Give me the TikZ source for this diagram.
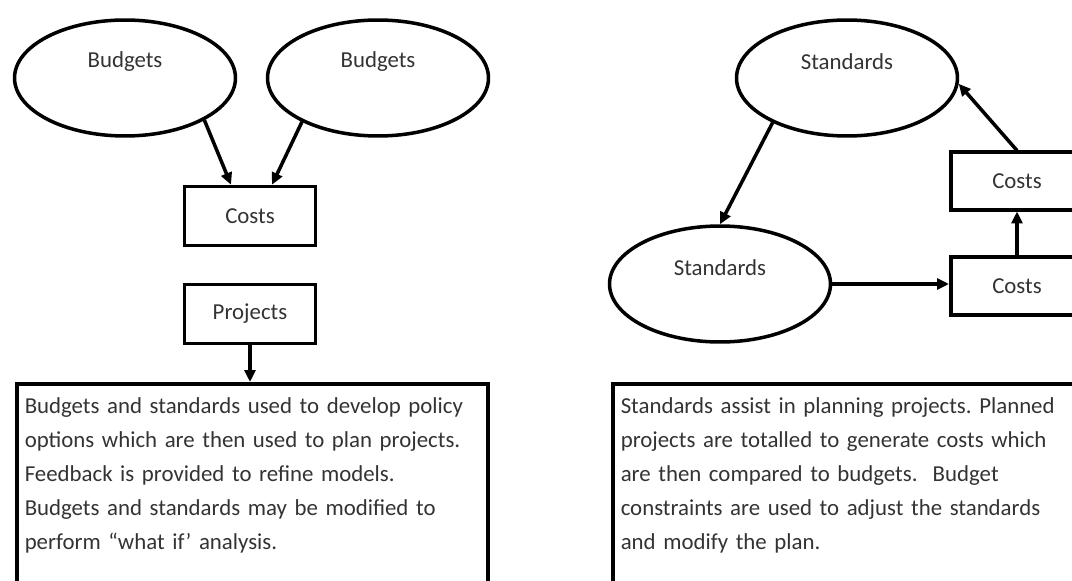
\documentclass[tikz,border=0pt]{standalone}
\usepackage{fontspec}
\setmainfont{Carlito}
\usetikzlibrary{arrows.meta,shapes.geometric}
\frenchspacing

\begin{document}
\begin{tikzpicture}[
    x=0.02cm, y=-0.02cm,
    font=\fontsize{13}{19.3}\selectfont,
    >={Triangle[length=0.24cm,width=0.22cm]},
    line width=2pt,
    oval/.style={draw, ellipse, minimum width=4.42cm, minimum height=2.32cm},
    box/.style={draw, rectangle, minimum width=2.62cm, minimum height=1.18cm, text=black!80},
    textbox/.style={draw, rectangle, anchor=north west, align=left, text width=9.11cm, inner xsep=0.16cm, inner ysep=0.28cm, text depth=5cm, text=black!80},
    tag/.style={text=black!80, yshift=0.32cm}
  ]
  \useasboundingbox (0,0) rectangle (1072,581);
  \clip (0,0) rectangle (1072,581);

  % left panel
  \node[oval, label={[tag]center:Budgets}] (bud1) at (125,78) {};
  \node[oval, label={[tag]center:Budgets}] (bud2) at (378,78) {};
  \node[box] (costs) at (250,216) {Costs};
  \node[box] (proj) at (250,314) {Projects};
  \node[textbox] (lefttext) at (15,382) {Budgets and standards used to develop policy\\
    options which are then used to plan projects.\\
    Feedback is provided to refine models.\\
    Budgets and standards may be modified to\\
    perform “what if’ analysis.};

  \draw[->] (bud1.-28) -- ([xshift=-0.38cm]costs.north);
  \draw[->] (bud2.210) -- ([xshift=0.44cm]costs.north);
  \draw[->] (proj.south) -- (lefttext.north -| proj.south);

  % right panel
  \node[oval, label={[tag]center:Standards}] (std1) at (847,78) {};
  \node[oval, label={[tag]center:Standards}] (std2) at (720,284) {};
  \node[box, minimum width=2.65cm, minimum height=1.15cm] (costsa) at (1017,181) {Costs};
  \node[box, minimum width=2.65cm, minimum height=1.17cm] (costsb) at (1017,286) {Costs};
  \node[textbox] (righttext) at (611,382) {Standards assist in planning projects. Planned\\
    projects are totalled to generate costs which\\
    are then compared to budgets.\ \ Budget\\
    constraints are used to adjust the standards\\
    and modify the plan.};

  \draw[->] (std1.211) -- (std2.north);
  \draw[->] (std2.east) -- (costsb.west |- std2.east);
  \draw[->] (costsb.north) -- (costsa.south);
  \draw[->] (costsa.north) -- (std1.-3);
\end{tikzpicture}
\end{document}
